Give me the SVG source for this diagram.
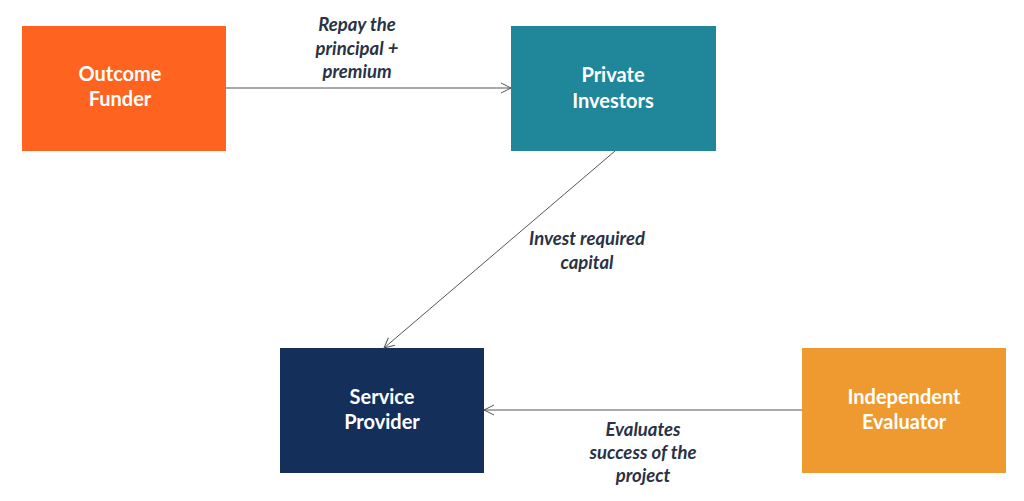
<svg xmlns="http://www.w3.org/2000/svg" width="1024" height="501" viewBox="0 0 1024 501">
<defs>
<style>
.box text{font-family:Lato,"Liberation Sans",sans-serif;font-weight:bold;font-size:20px;fill:#fff;text-anchor:middle}
.lbl{font-family:Lato,"Liberation Sans",sans-serif;font-weight:bold;font-style:italic;font-size:18.5px;fill:#2a3245;text-anchor:middle}
.conn line{stroke:#555;stroke-width:1;fill:none}
</style>
<marker id="arr" viewBox="0 0 12 12" refX="11" refY="6" markerWidth="12" markerHeight="12" markerUnits="userSpaceOnUse" orient="auto">
<path d="M1,1 L11,6 L1,11" fill="none" stroke="#555" stroke-width="1"/>
</marker>
</defs>
<rect width="1024" height="501" fill="#fff"/>
<g id="outcome-funder" class="box">
<rect x="22" y="26" width="204" height="125" fill="#fe631f"/>
<text x="120" y="81">Outcome</text>
<text x="120" y="106">Funder</text>
</g>
<g id="private-investors" class="box">
<rect x="511" y="26" width="205" height="125" fill="#20869a"/>
<text x="613" y="82">Private</text>
<text x="613" y="108">Investors</text>
</g>
<g id="service-provider" class="box">
<rect x="280" y="348" width="204" height="125" fill="#132f5a"/>
<text x="382" y="404">Service</text>
<text x="382" y="429">Provider</text>
</g>
<g id="independent-evaluator" class="box">
<rect x="802" y="348" width="204" height="125" fill="#ee9a30"/>
<text x="904" y="404">Independent</text>
<text x="904" y="429">Evaluator</text>
</g>
<g id="connectors" class="conn">
<line x1="226" y1="88" x2="511" y2="88" marker-end="url(#arr)"/>
<line x1="615" y1="151" x2="384" y2="348" marker-end="url(#arr)"/>
<line x1="802" y1="410" x2="484" y2="410" marker-end="url(#arr)"/>
</g>
<g id="labels">
<text class="lbl" x="357" y="31">Repay the</text>
<text class="lbl" x="357" y="55">principal +</text>
<text class="lbl" x="357" y="78">premium</text>
<text class="lbl" x="587" y="245">Invest required</text>
<text class="lbl" x="587" y="269">capital</text>
<text class="lbl" x="643" y="436">Evaluates</text>
<text class="lbl" x="643" y="459">success of the</text>
<text class="lbl" x="643" y="482">project</text>
</g>
</svg>
